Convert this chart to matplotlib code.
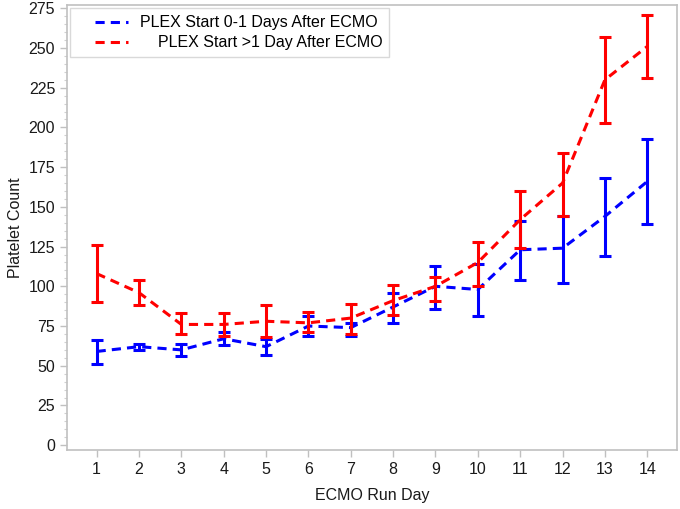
import numpy as np
import matplotlib as mpl
mpl.use('Agg')
import matplotlib.pyplot as plt
from matplotlib.ticker import MultipleLocator
from matplotlib.legend_handler import HandlerLine2D

plt.rcParams['font.family'] = ['Liberation Sans', 'DejaVu Sans']

days = list(range(1, 15))

# PLEX start 0-1 days after ECMO
early_mean = [59, 62, 60, 67, 62, 75, 74, 87, 100, 98, 123, 124, 144, 166]
early_low = [51, 60, 56, 63, 57, 69, 69, 77, 86, 81, 104, 102, 119, 139]
early_high = [66, 64, 64, 71, 67, 81, 77, 96, 113, 114, 141, 144, 168, 193]

# PLEX start >1 day after ECMO
late_mean = [108, 96, 76, 76, 78, 77, 80, 91, 100, 115, 142, 165, 230, 251]
late_low = [90, 88, 70, 69, 68, 71, 70, 82, 91, 100, 124, 144, 203, 231]
late_high = [126, 104, 83, 83, 88, 84, 89, 101, 106, 128, 160, 184, 257, 271]

fig = plt.figure(figsize=(6.8, 5.09), dpi=100)
ax = fig.add_axes([0.0985, 0.116, 0.897, 0.874])

series = [
    (early_mean, early_low, early_high, '#0000ff', "PLEX Start 0-1 Days After ECMO"),
    (late_mean, late_low, late_high, '#ff0000', "    PLEX Start >1 Day After ECMO"),
]

handles = []
for mean, low, high, col, lab in series:
    m = np.array(mean)
    yerr = [m - np.array(low), np.array(high) - m]
    ax.errorbar(days, m, yerr=yerr, fmt='none', ecolor=col, elinewidth=2.2,
                capsize=4.5, capthick=2.2)
    line, = ax.plot(days, m, color=col, lw=2.2, dashes=(3, 2), label=lab)
    handles.append(line)

ax.set_xlim(0.3, 14.7)
ax.set_ylim(-3, 277)
ax.set_xticks(days)
ax.yaxis.set_major_locator(MultipleLocator(25))
ax.yaxis.set_minor_locator(MultipleLocator(5))

for s in ax.spines.values():
    s.set_color('#c0c0c0')
    s.set_linewidth(1.2)
ax.tick_params(axis='both', which='major', colors='#c0c0c0', labelcolor='#1a1a1a',
               labelsize=11.5, length=5, width=1)
ax.tick_params(axis='y', which='minor', colors='#d0d0d0', length=2, width=0.8)

ax.set_xlabel("ECMO Run Day", fontsize=11.5, color='#1a1a1a', labelpad=8)
ax.set_ylabel("Platelet Count", fontsize=11.5, color='#1a1a1a', labelpad=4)

leg = ax.legend(handles=handles, loc='upper left', fontsize=11.5, frameon=True,
                fancybox=False, borderaxespad=0.2, handlelength=3.2,
                handletextpad=0.7, labelspacing=0.3, borderpad=0.45,
                handler_map={mpl.lines.Line2D: HandlerLine2D(xpad=1.1)})
leg.get_frame().set_edgecolor('#d0d0d0')
leg.get_frame().set_linewidth(1)

plt.savefig("out.png", dpi=100)
